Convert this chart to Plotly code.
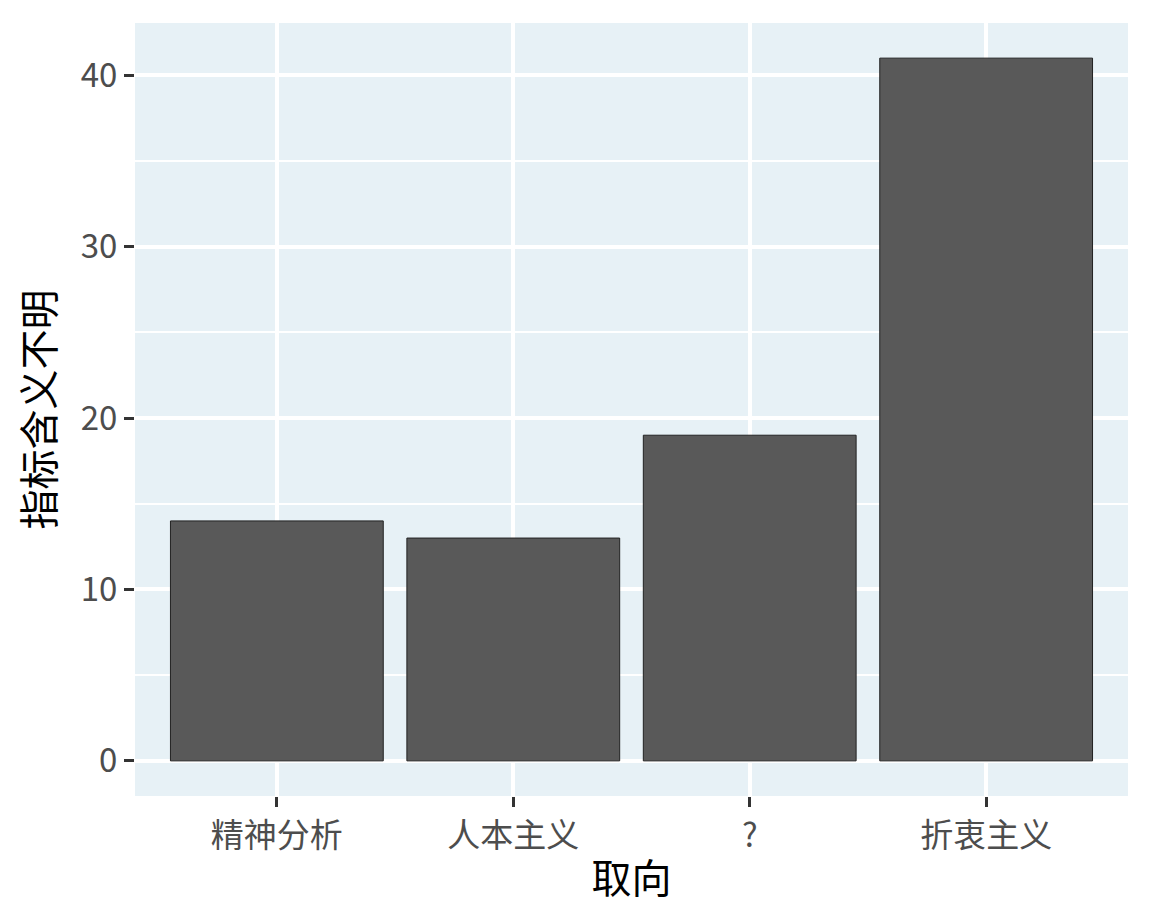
import plotly.graph_objects as go

categories = ["精神分析", "人本主义", "?", "折衷主义"]
values = [14, 13, 19, 41]
y_ticks = [0, 10, 20, 30, 40]

FONT = "Noto Sans CJK SC"

fig = go.Figure()
fig.add_trace(go.Bar(
    x=categories, y=values, width=0.9,
    marker=dict(color="#595959", line=dict(color="#222222", width=1)),
))

fig.update_layout(
    width=1152, height=922,
    margin=dict(l=127, r=32, t=15, b=134),
    paper_bgcolor="white",
    plot_bgcolor="#E7F1F6",
    showlegend=False,
    font=dict(family=FONT, color="#4D4D4D"),
)
fig.update_xaxes(
    range=[-0.6, 3.6],
    showgrid=True, gridcolor="white", gridwidth=4,
    ticks="outside", ticklen=10, tickwidth=2.5, tickcolor="#333333",
    tickfont=dict(size=33, color="#4D4D4D", family=FONT),
    title=dict(text="取向", font=dict(size=40, color="black", family=FONT), standoff=9),
    zeroline=False, showline=False,
)
fig.update_yaxes(
    range=[-2.05, 43.05],
    tickvals=y_ticks,
    showgrid=True, gridcolor="white", gridwidth=4,
    minor=dict(dtick=5, tick0=5, showgrid=True, gridcolor="white", gridwidth=2, ticks=""),
    ticks="outside", ticklen=10, tickwidth=2.5, tickcolor="#333333",
    tickfont=dict(size=33, color="#4D4D4D", family=FONT),
    title=dict(text="指标含义不明", font=dict(size=40, color="black", family=FONT), standoff=18),
    zeroline=False, showline=False,
)

fig.write_html("out.html")
